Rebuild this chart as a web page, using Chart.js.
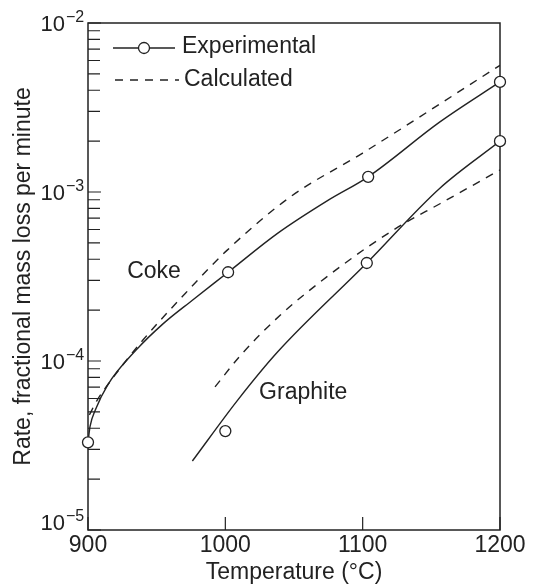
<!DOCTYPE html>
<html>
<head>
<meta charset="utf-8">
<script src="https://cdn.jsdelivr.net/npm/chart.js@4/dist/chart.umd.min.js"></script>
<style>
html,body{margin:0;padding:0;background:#fff;}
canvas{display:block;}
</style>
</head>
<body>
<canvas id="c" width="537" height="587"></canvas>
<script>
// ---- axis ticks ----
const T_TICKS = [900, 1000, 1100, 1200];
const RATE_EXPONENTS = [-2, -3, -4, -5];
const MINOR_MANTISSAS = [2, 3, 4, 5, 6, 7, 8, 9];

// ---- experimental measurements (circles) ----
const cokeExpTemp = [900, 1002, 1104, 1200];
const cokeExpRate = [3.3e-5, 3.35e-4, 1.23e-3, 4.48e-3];
const graphiteExpTemp = [1000, 1103, 1200];
const graphiteExpRate = [3.85e-5, 3.8e-4, 2.0e-3];

// ---- experimental curves (solid) ----
const cokeExpCurveTemp = [900, 901.5, 905.4, 914.4, 935, 955, 976, 1002, 1038, 1075, 1104, 1156, 1200];
const cokeExpCurveRate = [3.3e-5, 4.1e-5, 5.14e-5, 7.23e-5, 1.16e-4, 1.67e-4, 2.29e-4, 3.35e-4, 5.69e-4, 8.95e-4, 1.23e-3, 2.59e-3, 4.48e-3];
const graphiteExpCurveTemp = [976, 1009, 1038, 1103, 1156, 1200];
const graphiteExpCurveRate = [2.56e-5, 5.87e-5, 1.13e-4, 3.8e-4, 1.05e-3, 2.0e-3];

// ---- calculated curves (dashed) ----
const cokeCalcTemp = [901, 906.7, 916.9, 940, 970.8, 1001.4, 1047.3, 1100, 1200];
const cokeCalcRate = [4.8e-5, 5.87e-5, 7.71e-5, 1.33e-4, 2.51e-4, 4.53e-4, 9.35e-4, 1.7e-3, 5.62e-3];
const graphiteCalcTemp = [992.5, 1011.1, 1040.1, 1083.6, 1125.9, 1156.6, 1200];
const graphiteCalcRate = [7.03e-5, 1.08e-4, 1.87e-4, 3.61e-4, 6.21e-4, 8.55e-4, 1.35e-3];

// ---- annotations ----
const legendLabels = ['Experimental', 'Calculated'];
const curveLabels = ['Coke', 'Graphite'];
const curveLabelTemp = [928.5, 1024.6];
const curveLabelRate = [3.37e-4, 6.46e-5];
const xTitle = 'Temperature (\u00B0C)';
const yTitle = 'Rate, fractional mass loss per minute';

const INK = '#222';
const FONT = "'Liberation Sans', Arial, Helvetica, sans-serif";

const pts = (ts, rs) => ts.map((t, i) => ({x: t, y: rs[i]}));
const curve = (ts, rs, dashed) => ({
  data: pts(ts, rs),
  showLine: true,
  borderColor: INK,
  borderWidth: 1.4,
  borderDash: dashed ? [8, 7] : [],
  pointRadius: 0,
  pointHoverRadius: 0,
  cubicInterpolationMode: 'monotone',
  fill: false,
  order: 1
});
const markers = (ts, rs) => ({
  data: pts(ts, rs),
  showLine: false,
  pointRadius: 5.5,
  pointHoverRadius: 5.5,
  pointBackgroundColor: '#fff',
  pointBorderColor: INK,
  pointBorderWidth: 1.3,
  order: 0,
  clip: false
});

const decor = {
  id: 'decor',
  beforeDatasetsDraw(chart) {
    const {ctx, chartArea: a, scales: {x, y}} = chart;
    ctx.save();
    ctx.strokeStyle = INK;
    ctx.lineWidth = 1.5;
    ctx.strokeRect(a.left, a.top, a.right - a.left, a.bottom - a.top);
    ctx.lineWidth = 1.2;
    ctx.beginPath();
    RATE_EXPONENTS.forEach(e => {
      const p = y.getPixelForValue(Math.pow(10, e));
      ctx.moveTo(a.left, p); ctx.lineTo(a.left + 13, p);
      if (e < -2) {
        MINOR_MANTISSAS.forEach(m => {
          const q = y.getPixelForValue(m * Math.pow(10, e));
          ctx.moveTo(a.left, q); ctx.lineTo(a.left + 12, q);
        });
      }
    });
    T_TICKS.forEach(t => {
      const p = x.getPixelForValue(t);
      ctx.moveTo(p, a.bottom); ctx.lineTo(p, a.bottom - 13);
    });
    ctx.stroke();
    ctx.restore();
  },
  afterDraw(chart) {
    const {ctx, chartArea: a, scales: {x, y}} = chart;
    ctx.save();
    ctx.fillStyle = INK;
    ctx.strokeStyle = INK;
    // y tick labels 10^n
    RATE_EXPONENTS.forEach(e => {
      const p = y.getPixelForValue(Math.pow(10, e));
      const base = Math.min(p + 2, a.bottom - 6);
      ctx.textBaseline = 'middle';
      ctx.font = '22px ' + FONT;
      ctx.textAlign = 'right';
      ctx.fillText('10', a.left - 23, base);
      ctx.font = '16px ' + FONT;
      ctx.textAlign = 'left';
      ctx.fillText('\u2212' + (-e), a.left - 22, base - 7);
    });
    // x tick labels
    ctx.font = '23px ' + FONT;
    ctx.textAlign = 'center';
    ctx.textBaseline = 'middle';
    T_TICKS.forEach(t => {
      ctx.fillText(String(t), x.getPixelForValue(t), a.bottom + 16);
    });
    // curve labels
    ctx.textAlign = 'left';
    curveLabels.forEach((s, i) => {
      ctx.fillText(s, x.getPixelForValue(curveLabelTemp[i]), y.getPixelForValue(curveLabelRate[i]));
    });
    // legend
    const lx = a.left + 25, ly1 = a.top + 25, ly2 = a.top + 57;
    ctx.lineWidth = 1.4;
    ctx.beginPath();
    ctx.moveTo(lx, ly1); ctx.lineTo(lx + 62, ly1);
    ctx.stroke();
    ctx.beginPath();
    ctx.arc(lx + 31, ly1, 5.5, 0, Math.PI * 2);
    ctx.fillStyle = '#fff';
    ctx.fill();
    ctx.lineWidth = 1.3;
    ctx.stroke();
    ctx.fillStyle = INK;
    ctx.lineWidth = 1.4;
    ctx.setLineDash([8, 7]);
    ctx.beginPath();
    ctx.moveTo(lx + 2, ly2); ctx.lineTo(lx + 66, ly2);
    ctx.stroke();
    ctx.setLineDash([]);
    ctx.fillText(legendLabels[0], lx + 69, ly1 - 1);
    ctx.fillText(legendLabels[1], lx + 71, ly2);
    ctx.restore();
  }
};

new Chart(document.getElementById('c'), {
  type: 'scatter',
  data: {
    datasets: [
      curve(cokeExpCurveTemp, cokeExpCurveRate, false),
      curve(graphiteExpCurveTemp, graphiteExpCurveRate, false),
      curve(cokeCalcTemp, cokeCalcRate, true),
      curve(graphiteCalcTemp, graphiteCalcRate, true),
      markers(cokeExpTemp, cokeExpRate),
      markers(graphiteExpTemp, graphiteExpRate)
    ]
  },
  options: {
    responsive: false,
    animation: false,
    devicePixelRatio: 1,
    layout: {padding: {top: 23, right: 37, left: 0, bottom: 0}},
    plugins: {legend: {display: false}, tooltip: {enabled: false}},
    events: [],
    scales: {
      x: {
        type: 'linear',
        min: T_TICKS[0], max: T_TICKS[T_TICKS.length - 1],
        ticks: {display: false, stepSize: 100},
        grid: {display: false},
        border: {display: false},
        title: {display: true, text: xTitle, color: INK, font: {family: FONT, size: 23}, padding: {top: 0, bottom: 1}},
        afterFit(s) { s.height = 57; }
      },
      y: {
        type: 'logarithmic',
        min: Math.pow(10, -5), max: Math.pow(10, -2),
        ticks: {display: false},
        grid: {display: false},
        border: {display: false},
        title: {display: true, text: yTitle, color: INK, font: {family: FONT, size: 23}, padding: {top: 10, bottom: 0}},
        afterFit(s) { s.width = 88; }
      }
    }
  },
  plugins: [decor]
});
</script>
</body>
</html>
